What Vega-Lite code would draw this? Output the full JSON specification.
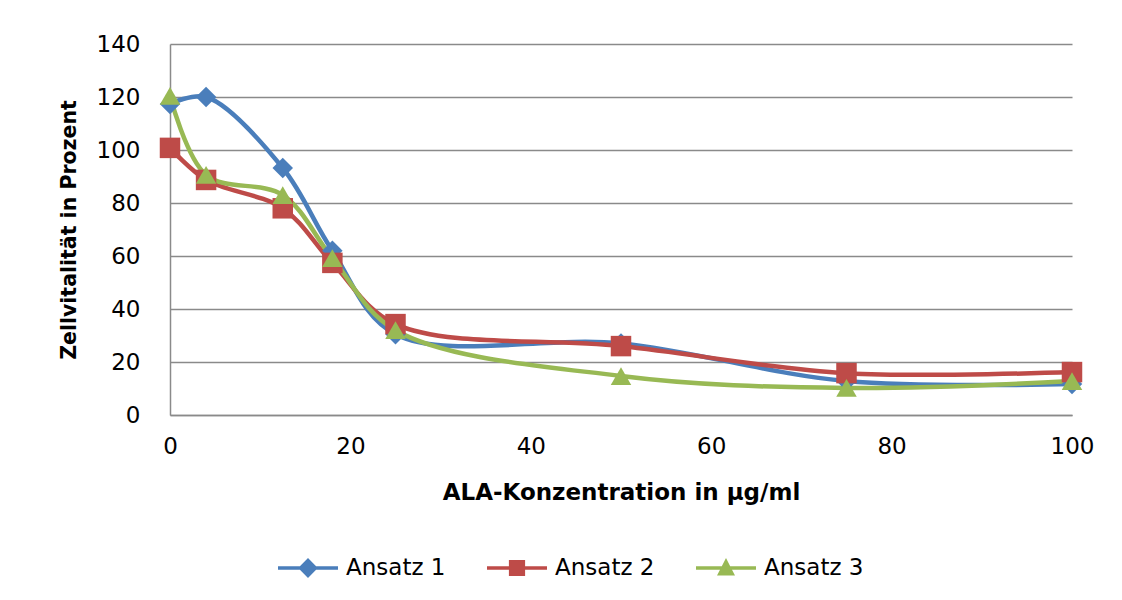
{
  "$schema": "https://vega.github.io/schema/vega-lite/v6.json",
  "width": 902,
  "height": 371,
  "autosize": {"type": "none"},
  "padding": {"left": 170, "top": 44, "right": 50, "bottom": 185},
  "background": "white",
  "config": {
    "view": {"stroke": null},
    "font": "DejaVu Sans",
    "axis": {"labelFont": "DejaVu Sans", "labelColor": "#000000", "titleColor": "#000000", "titleFont": "DejaVu Sans"}
  },
  "data": {
    "values": [
      {"x": 0, "y": 117.4, "series": "Ansatz 1"},
      {"x": 4, "y": 120.0, "series": "Ansatz 1"},
      {"x": 12.5, "y": 93.2, "series": "Ansatz 1"},
      {"x": 18, "y": 62.0, "series": "Ansatz 1"},
      {"x": 25, "y": 30.5, "series": "Ansatz 1"},
      {"x": 50, "y": 27.0, "series": "Ansatz 1"},
      {"x": 75, "y": 12.8, "series": "Ansatz 1"},
      {"x": 100, "y": 11.7, "series": "Ansatz 1"},
      {"x": 0, "y": 100.8, "series": "Ansatz 2"},
      {"x": 4, "y": 88.7, "series": "Ansatz 2"},
      {"x": 12.5, "y": 78.0, "series": "Ansatz 2"},
      {"x": 18, "y": 57.4, "series": "Ansatz 2"},
      {"x": 25, "y": 34.3, "series": "Ansatz 2"},
      {"x": 50, "y": 26.0, "series": "Ansatz 2"},
      {"x": 75, "y": 15.8, "series": "Ansatz 2"},
      {"x": 100, "y": 16.2, "series": "Ansatz 2"},
      {"x": 0, "y": 120.4, "series": "Ansatz 3"},
      {"x": 4, "y": 90.6, "series": "Ansatz 3"},
      {"x": 12.5, "y": 83.0, "series": "Ansatz 3"},
      {"x": 18, "y": 59.2, "series": "Ansatz 3"},
      {"x": 25, "y": 32.0, "series": "Ansatz 3"},
      {"x": 50, "y": 14.7, "series": "Ansatz 3"},
      {"x": 75, "y": 10.2, "series": "Ansatz 3"},
      {"x": 100, "y": 12.8, "series": "Ansatz 3"}
    ]
  },
  "encoding": {
    "x": {
      "field": "x", "type": "quantitative",
      "scale": {"domain": [0, 100], "nice": false, "zero": false},
      "axis": {
        "values": [0, 20, 40, 60, 80, 100],
        "grid": false, "ticks": false, "labelFlush": false,
        "domainColor": "#8a8a8a", "domainWidth": 1.5,
        "labelFontSize": 23, "labelPadding": 20,
        "title": "ALA-Konzentration in µg/ml",
        "titleFontSize": 23, "titleFontWeight": "bold", "titlePadding": 23
      }
    },
    "y": {
      "field": "y", "type": "quantitative",
      "scale": {"domain": [0, 140], "nice": false},
      "axis": {
        "values": [0, 20, 40, 60, 80, 100, 120, 140],
        "grid": true, "gridColor": "#8a8a8a", "gridWidth": 1.5,
        "ticks": false, "labelFlush": false,
        "domainColor": "#8a8a8a", "domainWidth": 1.5,
        "labelFontSize": 23, "labelPadding": 30,
        "title": "Zellvitalität in Prozent",
        "titleFontSize": 20.5, "titleFontWeight": "bold", "titlePadding": 17
      }
    }
  },
  "layer": [
    {
      "mark": {"type": "line", "interpolate": "catmull-rom", "strokeWidth": 4.5, "strokeCap": "round"},
      "encoding": {
        "color": {
          "field": "series", "type": "nominal",
          "scale": {"domain": ["Ansatz 1", "Ansatz 2", "Ansatz 3"], "range": ["#4A7EBB", "#BE4B48", "#98B954"]},
          "legend": null
        }
      }
    },
    {
      "mark": {"type": "point", "filled": true, "opacity": 1, "size": 420, "strokeWidth": 0},
      "encoding": {
        "color": {
          "field": "series", "type": "nominal",
          "scale": {"domain": ["Ansatz 1", "Ansatz 2", "Ansatz 3"], "range": ["#4A7EBB", "#BE4B48", "#98B954"]},
          "legend": null
        },
        "shape": {
          "field": "series", "type": "nominal",
          "scale": {"domain": ["Ansatz 1", "Ansatz 2", "Ansatz 3"], "range": ["diamond", "square", "triangle-up"]},
          "legend": null
        }
      }
    },
    {
      "transform": [{"filter": "datum.x < 0"}],
      "mark": {"type": "point", "filled": true, "opacity": 1, "strokeWidth": 0},
      "encoding": {
        "color": {
          "field": "series", "type": "nominal",
          "scale": {"domain": ["Ansatz 1", "Ansatz 2", "Ansatz 3"], "range": ["#4A7EBB", "#BE4B48", "#98B954"]},
          "legend": {
            "title": null, "orient": "none", "direction": "horizontal",
            "legendX": 108, "legendY": 494,
            "symbolSize": 3600, "symbolStrokeWidth": 0, "symbolOpacity": 1,
            "labelFont": "DejaVu Sans", "labelFontSize": 23, "labelColor": "#000000",
            "labelOffset": 8, "columnPadding": 41, "padding": 0,
            "labelLimit": 300
          }
        },
        "shape": {
          "field": "series", "type": "nominal",
          "scale": {"domain": ["Ansatz 1", "Ansatz 2", "Ansatz 3"], "range": [
            "M-1,-0.06H-0.27L0,-0.33L0.27,-0.06H1V0.06H0.27L0,0.33L-0.27,0.06H-1Z",
            "M-1,-0.06H-0.27V-0.27H0.27V-0.06H1V0.06H0.27V0.27H-0.27V0.06H-1Z",
            "M-1,-0.06H-0.14L0,-0.33L0.14,-0.06H1V0.06H0.2L0.3,0.25H-0.3L-0.2,0.06H-1Z"
          ]},
          "legend": {
            "title": null, "orient": "none", "direction": "horizontal",
            "legendX": 108, "legendY": 494,
            "symbolSize": 3600, "symbolStrokeWidth": 0, "symbolOpacity": 1,
            "labelFont": "DejaVu Sans", "labelFontSize": 23, "labelColor": "#000000",
            "labelOffset": 8, "columnPadding": 41, "padding": 0,
            "labelLimit": 300
          }
        }
      }
    }
  ],
  "resolve": {"scale": {"color": "independent", "shape": "independent"}}
}
